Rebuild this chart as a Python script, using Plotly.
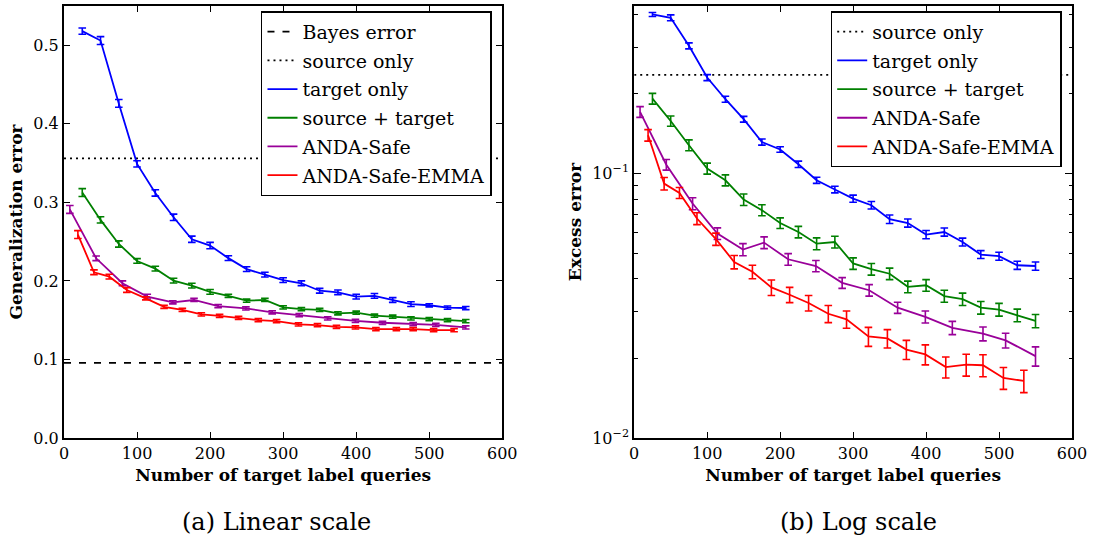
import plotly.graph_objects as go

# ---------------- data ----------------
x_step = [25, 50, 75, 100, 125, 150, 175, 200, 225, 250, 275, 300, 325, 350, 375, 400, 425, 450, 475, 500, 525, 550]
x_safe = [8, 44, 80, 114, 149, 178, 211, 249, 285, 322, 361, 399, 436, 478, 509, 550]
x_emma = [19, 41, 62, 86, 112, 137, 162, 188, 213, 239, 266, 291, 321, 347, 373, 399, 427, 455, 478, 506, 534]

bayes_error = 0.0957
source_only_lin = 0.356
source_only_log = 0.236

# linear scale (generalization error)
target_lin = [0.518, 0.506, 0.426, 0.349, 0.312, 0.281, 0.253, 0.245, 0.229, 0.215, 0.208, 0.201, 0.197, 0.1875, 0.1855, 0.180, 0.181, 0.1757, 0.1705, 0.169, 0.166, 0.1655]
target_lin_err = [0.004, 0.005, 0.005, 0.004, 0.004, 0.004, 0.004, 0.004, 0.003, 0.003, 0.003, 0.003, 0.003, 0.003, 0.003, 0.003, 0.003, 0.003, 0.003, 0.002, 0.002, 0.002]
srctgt_lin = [0.3125, 0.2777, 0.247, 0.2254, 0.2156, 0.2003, 0.194, 0.186, 0.181, 0.1748, 0.1757, 0.1663, 0.164, 0.163, 0.1587, 0.1595, 0.1557, 0.1544, 0.1523, 0.1514, 0.150, 0.1488]
srctgt_lin_err = [0.005, 0.004, 0.004, 0.003, 0.003, 0.003, 0.003, 0.003, 0.002, 0.002, 0.002, 0.002, 0.002, 0.002, 0.002, 0.002, 0.002, 0.002, 0.002, 0.002, 0.002, 0.002]
safe_lin = [0.291, 0.2288, 0.197, 0.180, 0.1727, 0.1757, 0.168, 0.165, 0.160, 0.1565, 0.1523, 0.149, 0.1467, 0.145, 0.144, 0.1408]
safe_lin_err = [0.005, 0.003, 0.003, 0.003, 0.002, 0.002, 0.002, 0.002, 0.002, 0.002, 0.002, 0.002, 0.002, 0.002, 0.002, 0.002]
emma_lin = [0.259, 0.211, 0.2054, 0.1884, 0.1778, 0.167, 0.163, 0.1574, 0.1556, 0.153, 0.150, 0.1488, 0.1446, 0.1437, 0.1416, 0.1408, 0.1386, 0.1386, 0.1386, 0.1373, 0.1373]
emma_lin_err = [0.005, 0.003, 0.003, 0.003, 0.002, 0.002, 0.002, 0.002, 0.002, 0.002, 0.002, 0.002, 0.002, 0.002, 0.002, 0.002, 0.002, 0.002, 0.002, 0.002, 0.002]

# log scale (excess error)
target_log = [0.3995, 0.388, 0.304, 0.2306, 0.191, 0.1605, 0.1316, 0.1233, 0.1084, 0.0943, 0.087, 0.0804, 0.0759, 0.0672, 0.065, 0.0588, 0.0601, 0.0551, 0.0494, 0.0487, 0.045, 0.0447]
target_log_err = [0.007, 0.010, 0.008, 0.006, 0.005, 0.004, 0.0035, 0.003, 0.003, 0.0025, 0.0025, 0.0025, 0.0025, 0.0025, 0.0023, 0.0021, 0.0021, 0.0019, 0.0017, 0.0017, 0.0016, 0.0016]
srctgt_log = [0.192, 0.158, 0.128, 0.1045, 0.0943, 0.0797, 0.0727, 0.065, 0.0601, 0.0543, 0.0551, 0.0457, 0.0435, 0.0418, 0.0373, 0.0378, 0.0344, 0.0335, 0.0311, 0.0306, 0.0291, 0.0277]
srctgt_log_err = [0.009, 0.007, 0.006, 0.005, 0.0045, 0.004, 0.0035, 0.003, 0.003, 0.0028, 0.0028, 0.0023, 0.0022, 0.0021, 0.0019, 0.0019, 0.0018, 0.0018, 0.0017, 0.0017, 0.0016, 0.0016]
safe_log = [0.171, 0.108, 0.077, 0.0593, 0.0516, 0.0548, 0.0474, 0.0447, 0.0386, 0.0362, 0.0311, 0.0287, 0.0261, 0.0248, 0.0234, 0.0204]
safe_log_err = [0.008, 0.005, 0.004, 0.003, 0.0027, 0.0028, 0.0024, 0.0022, 0.0018, 0.0018, 0.0015, 0.0015, 0.0015, 0.0015, 0.0015, 0.0017]
emma_log = [0.1396, 0.0916, 0.0845, 0.0676, 0.0565, 0.0463, 0.0425, 0.0371, 0.0348, 0.0324, 0.0295, 0.0281, 0.0242, 0.0238, 0.0216, 0.0207, 0.01855, 0.01894, 0.01884, 0.01687, 0.01644]
emma_log_err = [0.007, 0.005, 0.004, 0.0035, 0.003, 0.0027, 0.0025, 0.0025, 0.0023, 0.0022, 0.0022, 0.0021, 0.002, 0.0019, 0.0018, 0.0018, 0.0017, 0.0018, 0.0018, 0.0016, 0.0016]

x_range = [0, 600]
lin_yticks = [0.0, 0.1, 0.2, 0.3, 0.4, 0.5]
log_major = [0.01, 0.1]
log_major_text = ["10<sup>\u22122</sup>", "10<sup>\u22121</sup>"]
log_minor = [0.02, 0.03, 0.04, 0.05, 0.06, 0.07, 0.08, 0.09, 0.2, 0.3, 0.4]

# ---------------- style ----------------
W, H = 1094, 544
ML, MR, MT, MB = 63.5, 22, 5.7, 106.3
PW, PH = W - ML - MR, H - MT - MB

def px_x(p):
    return (p - ML) / PW

def px_y(p):
    return (H - MB - p) / PH

FONT = "DejaVu Serif"
BLUE, GREEN, PURPLE, RED = "#0000ff", "#008000", "#990099", "#ff0000"
LW = 1.8

fig = go.Figure()

def series(x, y, err, name, color, xa, ya, leg):
    fig.add_trace(go.Scatter(
        x=x, y=y, mode="lines", name=name, xaxis=xa, yaxis=ya, legend=leg,
        line=dict(color=color, width=LW), legendgroup=name + leg,
        error_y=dict(type="data", array=err, visible=True, color=color,
                     thickness=1.6, width=3.8),
    ))

def hline(yv, name, dash, xa, ya, leg):
    fig.add_trace(go.Scatter(
        x=x_range, y=[yv, yv], mode="lines", name=name, xaxis=xa, yaxis=ya,
        legend=leg, legendgroup=name + leg,
        line=dict(color="black", width=1.6, dash=dash),
    ))

# left
hline(bayes_error, "Bayes error", "7px,8px", "x", "y", "legend")
hline(source_only_lin, "source only", "2px,4px", "x", "y", "legend")
series(x_step, target_lin, target_lin_err, "target only", BLUE, "x", "y", "legend")
series(x_step, srctgt_lin, srctgt_lin_err, "source + target", GREEN, "x", "y", "legend")
series(x_safe, safe_lin, safe_lin_err, "ANDA-Safe", PURPLE, "x", "y", "legend")
series(x_emma, emma_lin, emma_lin_err, "ANDA-Safe-EMMA", RED, "x", "y", "legend")
# right
hline(source_only_log, "source only", "2px,4px", "x2", "y2", "legend2")
series(x_step, target_log, target_log_err, "target only", BLUE, "x2", "y2", "legend2")
series(x_step, srctgt_log, srctgt_log_err, "source + target", GREEN, "x2", "y2", "legend2")
series(x_safe, safe_log, safe_log_err, "ANDA-Safe", PURPLE, "x2", "y2", "legend2")
series(x_emma, emma_log, emma_log_err, "ANDA-Safe-EMMA", RED, "x2", "y2", "legend2")

tickfont = dict(family=FONT, size=16, color="black")
titlefont = dict(family=FONT, size=17, color="black", weight="bold")

common_x = dict(range=x_range, dtick=100, tick0=0, ticks="inside", ticklen=6, tickwidth=1.2,
                tickcolor="black", showline=True, linewidth=2, linecolor="black",
                mirror="ticks", showgrid=False, zeroline=False, tickfont=tickfont,
                automargin=False,
                title=dict(text="Number of target label queries", font=titlefont, standoff=7))

left_dom = [0, px_x(502)]
right_dom = [px_x(634), 1]

legend_style = dict(font=dict(family=FONT, size=19, color="black"), bgcolor="white",
                    bordercolor="black", borderwidth=1.5, xanchor="right", yanchor="top",
                    tracegroupgap=1, traceorder="grouped", itemwidth=30)

fig.update_layout(
    width=W, height=H,
    margin=dict(l=ML, r=MR, t=MT, b=MB),
    paper_bgcolor="white", plot_bgcolor="white",
    font=dict(family=FONT, color="black"),
    xaxis=dict(domain=left_dom, anchor="y", **common_x),
    yaxis=dict(domain=[0, 1], anchor="x", range=[0, 0.55], tickvals=lin_yticks,
               tickformat=".1f", ticks="inside", ticklen=6, tickwidth=1.2, tickcolor="black",
               showline=True, linewidth=2, linecolor="black", mirror="ticks",
               showgrid=False, zeroline=False, tickfont=tickfont, automargin=False,
               title=dict(text="Generalization error", font=titlefont, standoff=6)),
    xaxis2=dict(domain=right_dom, anchor="y2", **common_x),
    yaxis2=dict(domain=[0, 1], anchor="x2", type="log", range=[-2, -0.3665],
                tickvals=log_major, ticktext=log_major_text,
                ticks="inside", ticklen=7, tickwidth=1.2, tickcolor="black",
                minor=dict(tickvals=log_minor, ticks="inside", ticklen=3.5, tickwidth=1,
                           tickcolor="black", showgrid=False),
                showline=True, linewidth=2, linecolor="black", mirror="ticks",
                showgrid=False, zeroline=False, tickfont=tickfont, automargin=False,
                title=dict(text="Excess error", font=titlefont, standoff=6)),
    legend=dict(x=px_x(491.7), y=px_y(11), **legend_style),
    legend2=dict(x=px_x(1061.7), y=px_y(11), **legend_style),
    showlegend=True,
    annotations=[
        dict(text="(a) Linear scale", x=px_x(276), y=px_y(522), xref="paper", yref="paper",
             showarrow=False, xanchor="center", yanchor="middle",
             font=dict(family=FONT, size=24, color="black")),
        dict(text="(b) Log scale", x=px_x(858), y=px_y(522), xref="paper", yref="paper",
             showarrow=False, xanchor="center", yanchor="middle",
             font=dict(family=FONT, size=24, color="black")),
    ],
)

fig.write_html("out.html")
